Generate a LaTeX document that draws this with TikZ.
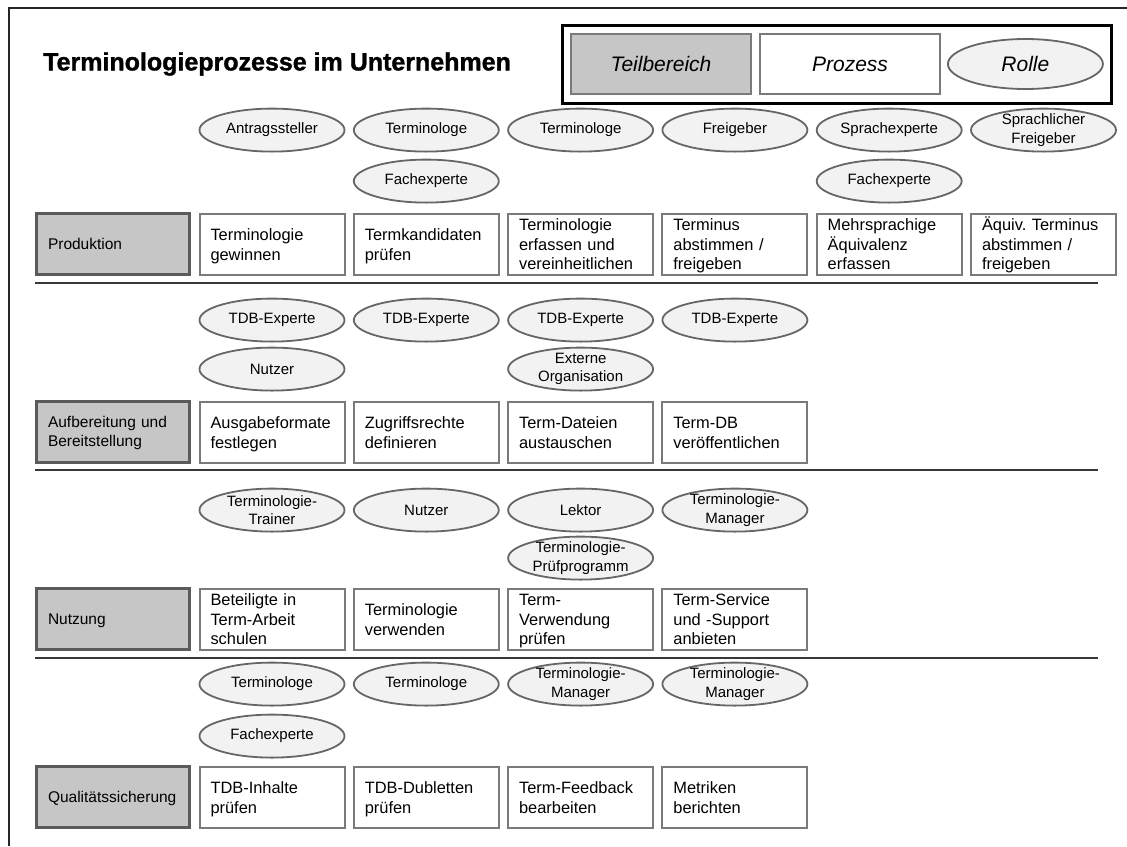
\documentclass[tikz,border=0pt]{standalone}
\usepackage{fontspec}
\setmainfont{Liberation Sans}
\newfontfamily\titlefam{Liberation Sans}[BoldFeatures={FakeBold=1.3}]
\usepackage{tikz}
\usetikzlibrary{positioning, shapes, fit}

\definecolor{areafill}{HTML}{C6C6C6}
\definecolor{areadraw}{HTML}{5A5A5A}
\definecolor{procdraw}{HTML}{7A7A7A}
\definecolor{rolefill}{HTML}{F2F2F2}
\definecolor{roledraw}{HTML}{666666}
\definecolor{sepline}{HTML}{383838}

\newcommand\titlefont{\titlefam\fontsize{25}{29}\selectfont\bfseries}
\newcommand\legendfont{\fontsize{21}{25}\selectfont\itshape}
\newcommand\areafont{\fontsize{15.5}{19}\selectfont}
\newcommand\procfont{\fontsize{16.4}{19.5}\selectfont\frenchspacing}
\newcommand\rolefont{\fontsize{15}{18.5}\selectfont}

\begin{document}
\begin{tikzpicture}[
    x=1pt, y=-1pt,
    node distance=7.3pt,
    areabox/.style={draw=areadraw, line width=3pt, fill=areafill, minimum width=153pt, minimum height=61pt, inner xsep=12pt, inner ysep=0pt, text width=129pt, align=left, font=\areafont, execute at begin node={\rule{0pt}{14pt}}, execute at end node={\rule[-4pt]{0pt}{4pt}}},
    procbox/.style={draw=procdraw, line width=2pt, fill=white, minimum width=145pt, minimum height=61pt, inner xsep=11pt, inner ysep=0pt, text width=123pt, align=left, font=\procfont, execute at begin node={\rule{0pt}{16pt}}, execute at end node={\rule[-3.5pt]{0pt}{3.5pt}}},
    role/.style={ellipse, draw=roledraw, line width=1.8pt, fill=rolefill, minimum width=145pt, minimum height=43pt, inner xsep=0pt, inner ysep=-4pt, align=center, font=\rolefont},
    legarea/.style={draw=procdraw, line width=2pt, fill=areafill, minimum width=180pt, minimum height=60pt, font=\legendfont},
    legproc/.style={draw=procdraw, line width=2pt, fill=white, minimum width=180pt, minimum height=60pt, font=\legendfont},
    legrole/.style={role, minimum width=155pt, minimum height=50pt, font=\legendfont},
    legframe/.style={draw=black, line width=3pt, inner sep=8pt},
    sep/.style={draw=sepline, line width=2pt}
]
\useasboundingbox (0,0) rectangle (1127,846);
\draw[line width=2.5pt, black!85] (9,846) -- (9,8) -- (1127,8);

\node[anchor=west, font=\titlefont, inner sep=0pt] (title) at (43,64) {Terminologieprozesse im Unternehmen};

\node[legarea] (lgarea) at (661,64) {Teilbereich};
\node[legproc, right=7pt of lgarea] (lgproc) {Prozess};
\node[legrole, right=6pt of lgproc] (lgrole) {Rolle};
\node[legframe, fit=(lgarea)(lgproc)(lgrole)] (legend) {};

\node[areabox] (prod) at (112.5,244) {Produktion};
\node[procbox, right=8pt of prod] (prod1) {Terminologie\\gewinnen};
\node[procbox, right=of prod1] (prod2) {Termkandidaten\\prüfen};
\node[procbox, right=of prod2] (prod3) {Terminologie\\erfassen und\\vereinheitlichen};
\node[procbox, right=of prod3] (prod4) {Terminus\\abstimmen /\\freigeben};
\node[procbox, right=of prod4] (prod5) {Mehrsprachige\\Äquivalenz\\erfassen};
\node[procbox, right=of prod5] (prod6) {Äquiv. Terminus\\abstimmen /\\freigeben};
\node[role, above=60pt of prod1] (prod1a) {Antragssteller};
\node[role, above=60pt of prod2] (prod2a) {Terminologe};
\node[role, above=9pt of prod2] (prod2b) {Fachexperte};
\node[role, above=60pt of prod3] (prod3a) {Terminologe};
\node[role, above=60pt of prod4] (prod4a) {Freigeber};
\node[role, above=60pt of prod5] (prod5a) {Sprachexperte};
\node[role, above=9pt of prod5] (prod5b) {Fachexperte};
\node[role, above=60pt of prod6] (prod6a) {Sprachlicher\\Freigeber};
\draw[sep] (35,283) -- (1098,283);

\node[areabox] (aufb) at (112.5,432) {Aufbereitung und\\Bereitstellung};
\node[procbox, right=8pt of aufb] (aufb1) {Ausgabeformate\\festlegen};
\node[procbox, right=of aufb1] (aufb2) {Zugriffsrechte\\definieren};
\node[procbox, right=of aufb2] (aufb3) {Term-Dateien\\austauschen};
\node[procbox, right=of aufb3] (aufb4) {Term-DB\\veröffentlichen};
\node[role, above=58pt of aufb1] (aufb1a) {TDB-Experte};
\node[role, above=9pt of aufb1] (aufb1b) {Nutzer};
\node[role, above=58pt of aufb2] (aufb2a) {TDB-Experte};
\node[role, above=58pt of aufb3] (aufb3a) {TDB-Experte};
\node[role, above=9pt of aufb3] (aufb3b) {Externe\\Organisation};
\node[role, above=58pt of aufb4] (aufb4a) {TDB-Experte};
\draw[sep] (35,470) -- (1098,470);

\node[areabox] (nutz) at (112.5,619) {Nutzung};
\node[procbox, right=8pt of nutz] (nutz1) {Beteiligte in\\Term-Arbeit\\schulen};
\node[procbox, right=of nutz1] (nutz2) {Terminologie\\verwenden};
\node[procbox, right=of nutz2] (nutz3) {Term-\\Verwendung\\prüfen};
\node[procbox, right=of nutz3] (nutz4) {Term-Service\\und -Support\\anbieten};
\node[role, above=55pt of nutz1] (nutz1a) {Terminologie-\\Trainer};
\node[role, above=55pt of nutz2] (nutz2a) {Nutzer};
\node[role, above=55pt of nutz3] (nutz3a) {Lektor};
\node[role, above=7pt of nutz3] (nutz3b) {Terminologie-\\Prüfprogramm};
\node[role, above=55pt of nutz4] (nutz4a) {Terminologie-\\Manager};
\draw[sep] (35,658) -- (1098,658);

\node[areabox] (qual) at (112.5,797) {Qualitätssicherung};
\node[procbox, right=8pt of qual] (qual1) {TDB-Inhalte\\prüfen};
\node[procbox, right=of qual1] (qual2) {TDB-Dubletten\\prüfen};
\node[procbox, right=of qual2] (qual3) {Term-Feedback\\bearbeiten};
\node[procbox, right=of qual3] (qual4) {Metriken\\berichten};
\node[role, above=59pt of qual1] (qual1a) {Terminologe};
\node[role, above=7pt of qual1] (qual1b) {Fachexperte};
\node[role, above=59pt of qual2] (qual2a) {Terminologe};
\node[role, above=59pt of qual3] (qual3a) {Terminologie-\\Manager};
\node[role, above=59pt of qual4] (qual4a) {Terminologie-\\Manager};
\end{tikzpicture}
\end{document}
